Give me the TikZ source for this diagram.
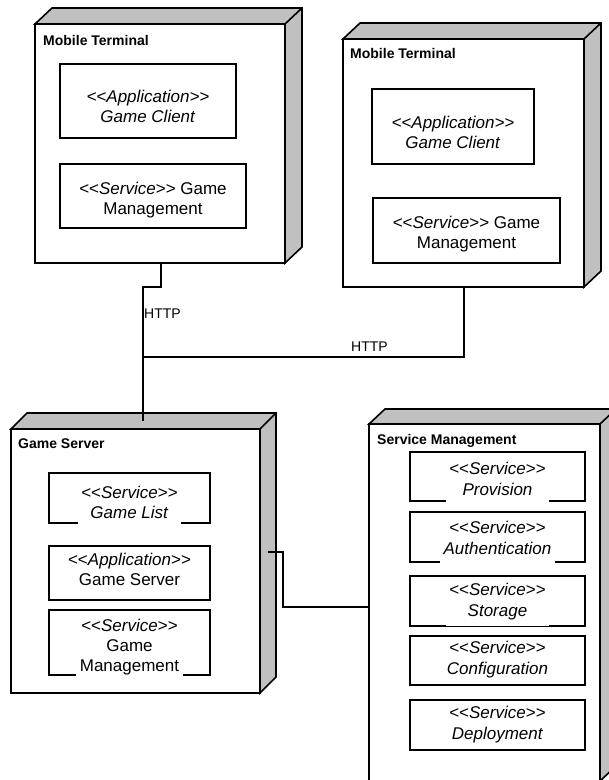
\documentclass[tikz,border=0pt]{standalone}
\usepackage{fontspec}
\setmainfont{Liberation Sans}
\usetikzlibrary{calc}

% guillemet pairs kept as two separate characters
\newcommand\stl{<\kern0pt<}
\newcommand\stg{>\kern0pt>}
\newcommand\stereo[1]{\stl\textit{#1}\stg}
% invisible depth so a label's white backing reaches over the box bottom
\newcommand\gapdepth{\rule[-9pt]{0pt}{9pt}}

\definecolor{depthgray}{HTML}{C0C0C0}

\tikzset{
  frontface/.style={draw, line width=1.6pt, fill=white, rectangle, inner sep=0pt,
    outer sep=0pt, anchor=north west},
  depthface/.style={draw, line width=1.6pt, fill=depthgray, line join=miter},
  nodetitle/.style={anchor=base west, inner sep=0pt,
    font=\fontsize{14}{16}\selectfont\bfseries},
  artifact/.style={draw, line width=1.6pt, rectangle, inner sep=0pt, outer sep=0pt,
    anchor=north west},
  artlabel/.style={anchor=north, align=center, inner sep=0pt,
    font=\fontsize{17}{20}\selectfont},
  smlabel/.style={artlabel, font=\fontsize{17}{21.5}\selectfont},
  gapfill/.style={fill=white, inner xsep=3.5pt},
  conn/.style={line width=1.6pt},
  linklabel/.style={anchor=base west, inner sep=0pt, font=\fontsize{14}{16}\selectfont},
}

% top and side faces of a 3D deployment node
\newcommand\nodedepth[3]{%
  \filldraw[depthface] (#1.north west) -- ++(#2,-#3)
    -- ($(#1.north east)+(#2,-#3)$) -- ($(#1.south east)+(#2,-#3)$)
    -- (#1.south east) -- (#1.north east) -- cycle;
  \draw[conn] (#1.north east) -- ++(#2,-#3);}

\begin{document}
\begin{tikzpicture}[x=1pt,y=-1pt]
\useasboundingbox (0,0) rectangle (609,780);
\clip (0,0) rectangle (609,780);
\fill[white] (0,0) rectangle (609,780);

% ---------- Mobile Terminal (left) ----------
\node[frontface, minimum width=250pt, minimum height=239pt] (mt1) at (35,24) {};
\nodedepth{mt1}{17}{16}
\node[nodetitle] (mt1title) at (43,45) {Mobile Terminal};
\node[artifact, minimum width=176pt, minimum height=74pt] (mt1gc) at (60,64) {};
\node[artlabel] (mt1gct) at (148,89.5) {\textit{\stl Application\stg}\\\textit{Game Client}};
\node[artifact, minimum width=186pt, minimum height=64pt] (mt1gm) at (60,164) {};
\node[artlabel] (mt1gmt) at (153,181.5) {\stereo{Service} Game\\Management};

% ---------- Mobile Terminal (right) ----------
\node[frontface, minimum width=241pt, minimum height=248pt] (mt2) at (343,39) {};
\nodedepth{mt2}{17}{16}
\node[nodetitle] (mt2title) at (350,58) {Mobile Terminal};
\node[artifact, minimum width=162pt, minimum height=75pt] (mt2gc) at (372,89) {};
\node[artlabel] (mt2gct) at (453,115.5) {\textit{\stl Application\stg}\\\textit{Game Client}};
\node[artifact, minimum width=187pt, minimum height=65pt] (mt2gm) at (373,198) {};
\node[artlabel] (mt2gmt) at (466.5,215.5) {\stereo{Service} Game\\Management};

% ---------- Game Server ----------
\node[frontface, minimum width=249pt, minimum height=264pt] (gs) at (11,429) {};
\nodedepth{gs}{16}{16}
\node[nodetitle] (gstitle) at (18,448) {Game Server};
\node[artifact, minimum width=161pt, minimum height=50pt] (gsgl) at (49,473) {};
\node[artlabel, gapfill] (gsglt) at (129.5,485.5) {\stereo{Service}\\\textit{Game List}\gapdepth};
\node[artifact, minimum width=161pt, minimum height=54pt] (gssv) at (49,546) {};
\node[artlabel] (gssvt) at (129.5,552.5) {\stereo{Application}\\Game Server};
\node[artifact, minimum width=161pt, minimum height=65pt] (gsgm) at (49,610) {};
\node[artlabel, gapfill] (gsgmt) at (129.5,618.5) {\stereo{Service}\\Game\\Management\gapdepth};

% ---------- Service Management ----------
\node[frontface, minimum width=231pt, minimum height=357pt] (sm) at (369,424) {};
\nodedepth{sm}{16}{15}
\node[nodetitle] (smtitle) at (377,444) {Service Management};
\node[artifact, minimum width=175pt, minimum height=49pt] (smpr) at (410,452) {};
\node[smlabel, gapfill] (smprt) at (497.5,461.5) {\stereo{Service}\\\textit{Provision}\gapdepth};
\node[artifact, minimum width=175pt, minimum height=50pt] (smau) at (410,512) {};
\node[smlabel, gapfill] (smaut) at (497.5,520.5) {\stereo{Service}\\\textit{Authentication}\gapdepth};
\node[artifact, minimum width=175pt, minimum height=50pt] (smst) at (410,576) {};
\node[smlabel, gapfill] (smstt) at (497.5,582.5) {\stereo{Service}\\\textit{Storage}\gapdepth};
\node[artifact, minimum width=175pt, minimum height=49pt] (smcf) at (410,636) {};
\node[smlabel] (smcft) at (497.5,640.5) {\stereo{Service}\\\textit{Configuration}};
\node[artifact, minimum width=175pt, minimum height=50pt] (smdp) at (410,700) {};
\node[smlabel] (smdpt) at (497.5,705.5) {\stereo{Service}\\\textit{Deployment}};

% ---------- connectors ----------
\coordinate (gsin) at (143,421);
\coordinate (hjoin) at (143,357);
\draw[conn] ([xshift=126pt]mt1.south west) -- ++(0,24) -| (gsin);
\draw[conn] ([xshift=121pt]mt2.south west) |- (hjoin);
\node[linklabel] (http1) at (144,318) {HTTP};
\node[linklabel] (http2) at (351,351) {HTTP};

\coordinate (gsport) at ($(gs.north east)+(8,123)$);
\draw[conn] (gsport) -- ++(15,0) |- (sm.west |- 0,607);
\end{tikzpicture}
\end{document}
